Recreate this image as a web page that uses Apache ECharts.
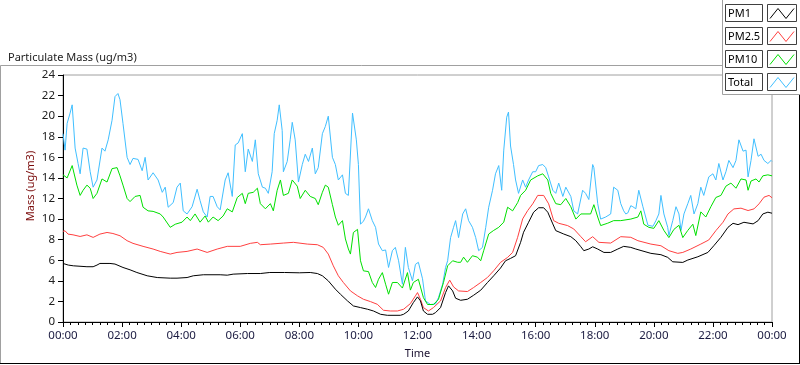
<!DOCTYPE html>
<html>
<head>
<meta charset="utf-8">
<script src="https://cdn.jsdelivr.net/npm/echarts@6/dist/echarts.min.js"></script>
<style>
html,body{margin:0;padding:0;background:#fff;}
#chart{width:800px;height:365px;}
</style>
</head>
<body>
<div id="chart"></div>
<script>
// ---- Data (hours of day, ug/m3) ----
const seriesNames = ['PM1', 'PM2.5', 'PM10', 'Total'];
const xLabels = ['00:00','02:00','04:00','06:00','08:00','10:00','12:00','14:00','16:00','18:00','20:00','22:00','00:00'];
const yLabels = ['0','2','4','6','8','10','12','14','16','18','20','22','24'];

const pm1T = [0,0.18,0.35,0.81,1.02,1.15,1.25,1.59,1.76,2.03,2.27,2.5,2.85,3.19,3.63,3.86,4.2,4.41,4.75,5.32,5.56,5.76,6.24,6.68,7.0,7.5,8.0,8.37,8.61,8.78,8.98,9.22,9.39,9.63,9.83,10.07,10.31,10.51,10.75,10.98,11.42,11.53,11.69,11.86,12.0,12.1,12.2,12.34,12.51,12.61,12.78,12.95,13.05,13.19,13.29,13.46,13.69,13.9,14.14,14.37,14.58,14.81,14.98,15.15,15.32,15.49,15.59,15.76,15.93,16.1,16.27,16.41,16.58,16.68,16.95,17.19,17.36,17.53,17.63,17.8,17.93,18.1,18.31,18.54,18.78,18.98,19.22,19.39,19.9,20.24,20.47,20.64,20.98,21.15,21.49,21.83,22.03,22.27,22.51,22.68,22.85,23.05,23.36,23.53,23.69,23.86,24];
const pm1V = [5.69,5.53,5.46,5.37,5.37,5.53,5.69,5.69,5.63,5.30,5.07,4.81,4.49,4.32,4.26,4.26,4.32,4.49,4.59,4.59,4.55,4.65,4.71,4.71,4.81,4.81,4.78,4.81,4.71,4.49,4.0,3.19,2.70,2.05,1.56,1.40,1.24,1.07,0.75,0.65,0.65,0.75,1.07,1.89,2.44,2.05,1.07,0.75,0.75,0.91,1.40,2.86,3.51,3.02,2.31,2.11,2.21,2.6,3.09,3.84,4.49,5.24,5.95,6.18,6.44,7.74,8.72,9.69,10.67,11.1,11.1,10.67,9.53,8.88,8.55,8.29,7.9,7.31,6.93,7.09,7.31,7.09,6.76,6.76,7.09,7.35,7.25,7.09,6.67,6.54,6.28,5.85,5.79,6.02,6.34,6.76,7.41,8.23,9.2,9.59,9.46,9.69,9.53,9.85,10.5,10.67,10.57];

const pm25T = [0,0.07,0.17,0.34,0.58,0.81,1.02,1.25,1.49,1.69,1.93,2.17,2.37,2.71,3.05,3.29,3.63,3.86,4.2,4.54,4.88,5.22,5.56,6.0,6.34,6.58,6.68,7.02,7.46,7.8,8.27,8.61,8.81,8.98,9.15,9.32,9.49,9.73,9.97,10.17,10.41,10.64,10.85,11.08,11.32,11.53,11.76,11.93,12.0,12.1,12.2,12.37,12.54,12.78,12.95,13.09,13.22,13.39,13.69,13.9,14.14,14.37,14.58,14.81,15.05,15.22,15.39,15.56,15.73,15.9,16.07,16.27,16.44,16.61,16.78,17.08,17.29,17.53,17.69,17.93,18.14,18.54,18.88,19.22,19.46,19.9,20.24,20.51,20.81,20.98,21.25,21.59,21.86,22.1,22.34,22.51,22.71,22.95,23.19,23.39,23.56,23.73,23.9,24];
const pm25V = [8.81,8.86,8.54,8.47,8.31,8.47,8.22,8.54,8.7,8.6,8.38,7.9,7.64,7.35,7.09,6.86,6.6,6.76,6.86,7.09,6.76,7.09,7.35,7.35,7.64,7.74,7.51,7.57,7.67,7.74,7.57,7.51,7.25,6.6,5.46,4.49,3.84,3.02,2.54,2.21,1.98,1.72,1.14,1.07,1.07,1.24,1.79,2.54,2.86,2.21,1.4,1.07,1.4,2.05,3.35,4.07,3.41,3.02,2.96,3.35,3.84,4.33,4.98,5.79,6.28,6.76,8.23,10.02,10.83,11.48,12.3,12.3,11.48,9.85,9.59,9.37,9.04,8.29,7.8,8.29,7.74,7.67,8.29,8.23,7.9,7.57,7.41,6.93,6.67,6.76,7.09,7.57,7.97,8.88,9.69,10.5,10.99,11.06,10.83,10.99,11.48,12.13,12.3,12.07];

const pm10T = [0,0.14,0.31,0.47,0.58,0.68,0.81,0.92,1.02,1.15,1.32,1.49,1.66,1.83,1.93,2.03,2.17,2.27,2.44,2.61,2.71,2.88,3.05,3.29,3.39,3.63,3.8,4.03,4.2,4.31,4.47,4.64,4.81,4.92,5.08,5.25,5.42,5.56,5.73,5.9,6.07,6.17,6.27,6.44,6.58,6.68,6.85,7.02,7.12,7.25,7.36,7.46,7.63,7.76,7.93,8.03,8.2,8.37,8.54,8.64,8.78,8.88,8.98,9.12,9.22,9.32,9.46,9.56,9.66,9.73,9.83,9.97,10.07,10.17,10.34,10.47,10.58,10.68,10.81,10.92,11.02,11.15,11.32,11.49,11.66,11.76,11.86,12.03,12.2,12.34,12.54,12.71,12.88,13.02,13.19,13.36,13.46,13.56,13.69,13.86,14.03,14.14,14.24,14.41,14.58,14.75,14.92,15.05,15.22,15.39,15.49,15.66,15.83,16.07,16.24,16.41,16.51,16.68,16.85,17.02,17.19,17.36,17.53,17.86,17.97,18.1,18.2,18.44,18.64,18.88,19.22,19.46,19.56,19.66,19.83,20.0,20.17,20.34,20.51,20.68,20.85,20.98,21.15,21.32,21.42,21.59,21.76,21.93,22.1,22.27,22.44,22.61,22.78,22.95,23.12,23.19,23.29,23.46,23.56,23.69,23.86,24];
const pm10V = [14.3,14.0,15.2,13.3,12.3,12.8,13.3,13.0,12.0,12.5,13.9,13.6,14.9,15.0,14.2,13.3,12.0,11.7,12.2,12.3,11.15,10.8,10.75,10.5,10.2,9.2,9.5,9.7,10.2,9.85,10.5,9.7,10.3,9.7,10.2,9.85,10.3,11.0,10.7,12.1,12.5,11.5,12.5,12.6,13.0,11.5,11.0,11.5,10.8,12.8,13.8,12.3,12.5,13.8,13.2,12.0,12.8,12.2,12.0,11.4,12.6,13.3,13.1,11.4,10.2,9.4,9.85,8.07,7.1,6.6,8.7,9.0,5.95,4.97,4.9,3.84,3.35,4.15,4.8,3.67,2.7,3.84,3.84,3.3,4.8,3.1,3.84,4.15,2.37,1.7,1.7,2.2,3.84,5.46,5.95,5.8,5.8,6.3,5.8,6.44,6.3,5.95,6.93,8.55,8.9,9.2,9.7,11.15,10.8,11.6,12.3,12.8,13.8,14.2,14.4,13.8,12.5,11.5,11.4,12.0,11.2,10.0,10.5,10.5,11.4,10.2,9.37,9.6,9.85,9.85,10.0,10.2,10.8,9.5,9.2,9.1,9.85,8.9,8.2,9.0,9.4,8.2,8.9,9.5,8.4,10.7,10.2,11.2,12.1,12.3,13.2,13.5,13.0,13.9,13.8,12.8,13.7,13.9,13.6,14.2,14.3,14.2];

const totalT = [0,0.07,0.14,0.24,0.31,0.41,0.51,0.58,0.68,0.81,0.92,1.02,1.15,1.32,1.42,1.53,1.66,1.76,1.86,1.93,2.03,2.17,2.27,2.37,2.54,2.68,2.78,2.88,3.05,3.22,3.36,3.46,3.56,3.73,3.86,3.97,4.07,4.2,4.37,4.54,4.64,4.75,4.88,4.98,5.08,5.22,5.32,5.49,5.59,5.73,5.83,5.93,6.07,6.17,6.27,6.41,6.51,6.61,6.75,6.85,6.95,7.08,7.15,7.25,7.32,7.42,7.46,7.59,7.69,7.76,7.86,7.97,8.1,8.2,8.31,8.44,8.54,8.64,8.78,8.88,8.98,9.12,9.22,9.32,9.46,9.56,9.66,9.8,9.83,9.93,10.0,10.07,10.17,10.24,10.34,10.47,10.58,10.68,10.81,10.92,11.02,11.15,11.25,11.36,11.49,11.59,11.69,11.83,11.93,12.03,12.17,12.27,12.44,12.61,12.71,12.85,12.95,13.02,13.12,13.22,13.29,13.39,13.53,13.63,13.73,13.86,13.97,14.07,14.2,14.31,14.41,14.54,14.64,14.75,14.85,14.92,15.02,15.08,15.15,15.25,15.32,15.42,15.56,15.66,15.76,15.9,16.0,16.1,16.24,16.34,16.44,16.58,16.68,16.78,16.92,17.02,17.19,17.29,17.42,17.59,17.69,17.8,17.93,17.97,18.1,18.2,18.37,18.54,18.64,18.78,18.88,18.98,19.05,19.12,19.22,19.29,19.39,19.49,19.63,19.8,19.97,20.07,20.17,20.24,20.34,20.47,20.51,20.64,20.75,20.85,20.92,21.02,21.15,21.25,21.36,21.49,21.59,21.69,21.86,22.0,22.1,22.2,22.34,22.44,22.54,22.68,22.78,22.88,23.02,23.12,23.19,23.29,23.39,23.53,23.63,23.73,23.86,23.97,24];
const totalV = [18.3,16.7,19.3,20.3,21.1,16.9,15.4,14.4,16.9,16.8,14.6,13.1,13.8,16.9,16.6,17.7,19.6,21.9,22.2,21.6,19.3,16.0,15.3,15.9,15.8,14.7,16.0,13.8,14.5,13.8,12.6,13.1,11.15,11.6,13.1,13.5,10.8,10.5,11.2,12.9,11.8,10.7,10.2,12.2,12.2,11.2,10.9,13.8,14.5,12.2,17.2,17.4,18.3,14.6,16.8,15.6,17.7,14.4,13.1,13.0,12.5,14.6,18.3,19.6,21.1,18.6,14.6,15.6,17.7,19.4,17.7,13.6,15.3,16.3,15.6,16.9,14.4,15.0,18.3,19.0,20.0,16.0,15.3,13.8,14.3,12.5,12.3,20.3,20.3,17.7,15.3,9.5,9.8,10.2,11.0,9.85,9.2,7.58,6.93,7.0,5.3,6.93,7.25,5.95,3.67,7.25,5.3,4.0,5.6,5.8,4.2,2.05,1.7,1.75,2.37,3.67,5.3,5.95,8.2,9.2,9.85,8.2,10.5,11.0,9.85,9.2,8.2,6.93,7.25,9.2,11.15,12.8,14.4,15.2,12.8,16.7,19.9,20.4,17.1,15.3,13.8,12.5,13.8,13.1,13.8,14.6,14.6,15.2,15.3,15.0,14.1,12.8,12.5,13.5,12.2,13.1,12.2,10.8,10.5,12.8,12.5,11.9,15.3,15.0,11.5,10.0,10.2,10.5,13.1,12.8,11.5,10.8,10.5,10.6,11.3,11.2,11.0,12.8,11.2,9.4,9.3,9.85,10.5,12.3,10.5,9.2,8.4,9.85,11.2,10.5,8.9,10.5,11.5,12.3,10.5,11.5,13.1,12.3,14.1,14.4,13.8,15.4,13.8,14.6,15.7,15.0,15.7,17.7,16.6,16.7,14.1,15.7,17.8,16.1,16.3,15.7,15.4,15.7,15.6];

const colors = ['#000000', '#ff4040', '#00e000', '#40bfff'];
// --------------------------------------------------------------

function zip(t, v) { return t.map((h, i) => [h, v[i]]); }
const FONT = '"Noto Sans", "Open Sans", sans-serif';
const FS = 11;

const chart = echarts.init(document.getElementById('chart'), null, {renderer: 'canvas'});

// legend built from series names/colours (decoration)
const legendGraphics = [];
legendGraphics.push({type:'rect', z:100, shape:{x:722.5, y:-1, width:80, height:95.5}, style:{fill:'#ffffff', stroke:'#a0a0a0', lineWidth:1}});
seriesNames.forEach((name, i) => {
  const y0 = 4.5 + i * 23;
  legendGraphics.push({type:'rect', z:101, shape:{x:725.5, y:y0, width:37, height:17}, style:{fill:'#fff', stroke:'#404040', lineWidth:1}});
  legendGraphics.push({type:'text', z:102, x:728, y:y0 + 9, style:{text:name, fill:'#000', font:FS + 'px ' + FONT, textVerticalAlign:'middle', verticalAlign:'middle'}});
  legendGraphics.push({type:'rect', z:101, shape:{x:767.5, y:y0, width:29, height:17}, style:{fill:'#fff', stroke:'#404040', lineWidth:1}});
  legendGraphics.push({type:'polyline', z:102, shape:{points:[[770, y0+14],[778, y0+4],[786, y0+14],[794, y0+4]]}, style:{stroke:colors[i], lineWidth:1, fill:null}});
});

const option = {
  animation: false,
  backgroundColor: '#ffffff',
  color: colors,
  grid: {left: 63, right: 28, top: 75, bottom: 43, show: true, borderColor: '#a0a0a0', borderWidth: 1, backgroundColor: '#ffffff'},
  xAxis: [{
    type: 'value', min: 0, max: 24, interval: 2,
    name: 'Time', nameLocation: 'middle', nameGap: 26,
    nameTextStyle: {color: '#1a1030', fontFamily: FONT, fontSize: FS},
    axisLine: {show: true, onZero: false, lineStyle: {color: '#a0a0a0', width: 1}},
    axisTick: {show: true, length: 5, lineStyle: {color: '#000'}},
    minorTick: {show: true, splitNumber: 8, length: 3, lineStyle: {color: '#000'}},
    splitLine: {show: false},
    axisLabel: {color: '#1a1a40', fontFamily: FONT, fontSize: 11.5, margin: 8,
      formatter: v => xLabels[Math.round(v / 2)]}
  }, {
    type: 'value', min: 0, max: 24, position: 'top',
    axisLine: {show: true, lineStyle: {color: '#000', width: 1}},
    axisTick: {show: false}, axisLabel: {show: false}, splitLine: {show: false}
  }],
  yAxis: [{
    type: 'value', min: 0, max: 24, interval: 2,
    axisLine: {show: true, onZero: false, lineStyle: {color: '#000', width: 1}},
    axisTick: {show: true, length: 5, lineStyle: {color: '#000'}},
    splitLine: {show: false},
    axisLabel: {color: '#202020', fontFamily: FONT, fontSize: 11.5, margin: 8,
      formatter: v => yLabels[Math.round(v / 2)]}
  }],
  title: {
    text: 'Particulate Mass (ug/m3)', left: 3, top: 47,
    textStyle: {color: '#202020', fontFamily: FONT, fontSize: FS, fontWeight: 'normal'}
  },
  graphic: [
    {type:'line', shape:{x1:0.5, y1:65.5, x2:723, y2:65.5}, style:{stroke:'#a0a0a0', lineWidth:1}},
    {type:'line', shape:{x1:0.5, y1:65.5, x2:0.5, y2:363.5}, style:{stroke:'#a0a0a0', lineWidth:1}},
    {type:'line', shape:{x1:0, y1:363.5, x2:800, y2:363.5}, style:{stroke:'#000', lineWidth:1}},
    {type:'line', shape:{x1:799.5, y1:94, x2:799.5, y2:364}, style:{stroke:'#000', lineWidth:1}},
    {type:'text', x:31, y:186, rotation: Math.PI / 2,
      style:{text:'Mass (ug/m3)', fill:'#7a0a0a', font:FS + 'px ' + FONT, textAlign:'center', textVerticalAlign:'middle', align:'center', verticalAlign:'middle'}},
    ...legendGraphics
  ],
  series: [
    {name: 'Total', type: 'line', data: zip(totalT, totalV), showSymbol: false, symbol: 'none', lineStyle: {color: colors[3], width: 1}, z: 2},
    {name: 'PM10', type: 'line', data: zip(pm10T, pm10V), showSymbol: false, symbol: 'none', lineStyle: {color: colors[2], width: 1}, z: 3},
    {name: 'PM2.5', type: 'line', data: zip(pm25T, pm25V), showSymbol: false, symbol: 'none', lineStyle: {color: colors[1], width: 1}, z: 4},
    {name: 'PM1', type: 'line', data: zip(pm1T, pm1V), showSymbol: false, symbol: 'none', lineStyle: {color: colors[0], width: 1}, z: 5}
  ]
};
chart.setOption(option);
</script>
</body>
</html>
